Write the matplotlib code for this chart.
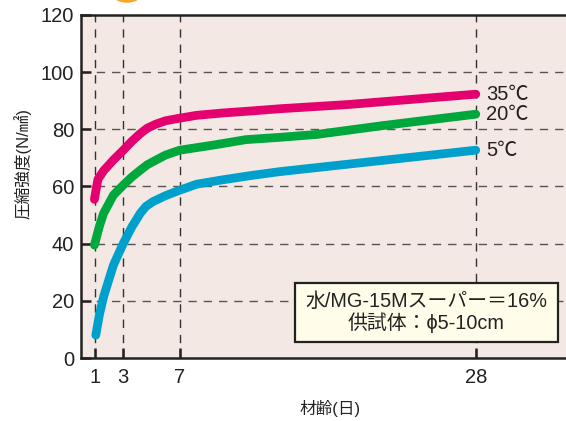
import matplotlib
matplotlib.use("Agg")
import matplotlib.pyplot as plt
from matplotlib.patches import Ellipse, Rectangle

plt.rcParams['font.family'] = ['Liberation Sans', 'Noto Sans CJK JP', 'DejaVu Sans']

# 材齢(日) and 圧縮強度
days_35 = [0.95, 1.2, 1.6, 2.3, 3.0, 3.6, 4.2, 4.7, 5.3, 6.0, 7.0, 8.2, 10.0, 12.0, 14.1, 19.0, 28.0]
str_35 = [55.5, 62.5, 65.5, 69.3, 72.7, 75.8, 78.5, 80.4, 81.8, 83.0, 83.9, 84.9, 85.7, 86.4, 87.2, 88.7, 92.3]

days_20 = [0.95, 1.3, 1.6, 2.3, 3.0, 3.6, 4.2, 4.7, 5.3, 6.0, 7.0, 9.4, 11.7, 14.1, 16.7, 21.4, 28.0]
str_20 = [39.5, 46.0, 50.6, 57.0, 60.5, 63.3, 65.7, 67.6, 69.2, 71.0, 72.7, 74.5, 76.4, 77.2, 78.2, 81.3, 85.3]

days_5 = [1.05, 1.3, 1.6, 2.3, 3.0, 3.6, 4.2, 4.6, 5.1, 6.0, 7.0, 8.2, 10.0, 12.0, 14.1, 28.0]
str_5 = [8.0, 15.0, 21.4, 32.5, 40.1, 45.8, 50.6, 53.0, 54.7, 56.8, 58.7, 60.8, 62.3, 63.8, 65.2, 72.7]

series = [
    (days_35, str_35, '#e4006e', '35℃'),
    (days_20, str_20, '#00a73c', '20℃'),
    (days_5, str_5, '#00a0cc', '5℃'),
]

x_ticks = [1, 3, 7, 28]
y_ticks = [0, 20, 40, 60, 80, 100, 120]

fig = plt.figure(figsize=(5.66, 4.21), dpi=100)
ax = fig.add_axes([81 / 566, 1 - 358 / 421, 1 - 81 / 566, (358 - 15) / 421])
ax.set_facecolor('#f3e8e3')

for v in x_ticks:
    ax.axvline(v, color='#333333', lw=1.0, ls=(0, (6, 5)), zorder=1)
for v in y_ticks[1:-1]:
    ax.axhline(v, color='#555555', lw=1.0, ls=(0, (6, 5)), zorder=1)

for d, s, c, lab in series:
    ax.plot(d, s, color=c, lw=6.3, solid_capstyle='round', solid_joinstyle='round', zorder=3)
    ax.text(d[-1] + 0.75, s[-1], lab, fontsize=14.5, color='#222222', va='center', ha='left')

ax.set_xlim(0, 34.4)
ax.set_ylim(0, 120)
ax.set_xticks(x_ticks)
ax.set_yticks(y_ticks)
ax.tick_params(direction='in', length=7, width=1.8, labelsize=14.5, colors='#222222', pad=7)
ax.tick_params(axis='y', pad=5)
for sp in ['left', 'bottom', 'top']:
    ax.spines[sp].set_linewidth(1.8)
    ax.spines[sp].set_color('#222222')
ax.spines['right'].set_visible(False)

ax.set_ylabel('圧縮強度(N/㎟)', fontsize=12, color='#222222')
ax.yaxis.set_label_coords(-0.103, 0.566)
ax.set_xlabel('材齢(日)', fontsize=12, color='#222222')
ax.xaxis.set_label_coords(0.513, -0.123)

# condition box
ax.add_patch(Rectangle((0.441, 0.047), 0.5425, 0.172, transform=ax.transAxes,
                       fc='#fffde9', ec='#222222', lw=1.6, zorder=5))
ax.text(0.712, 0.133, '水/MG-15Mスーパー＝16%\n供試体：ϕ5-10cm', transform=ax.transAxes,
        fontsize=14.3, color='#222222', ha='center', va='center', linespacing=1.1, zorder=6)

fig.patches.append(Ellipse((127 / 566, 1 + 6 / 421), 28 / 566, 16 / 421,
                           transform=fig.transFigure, color='#f5a623', zorder=0))

fig.savefig('out.png', dpi=100)
